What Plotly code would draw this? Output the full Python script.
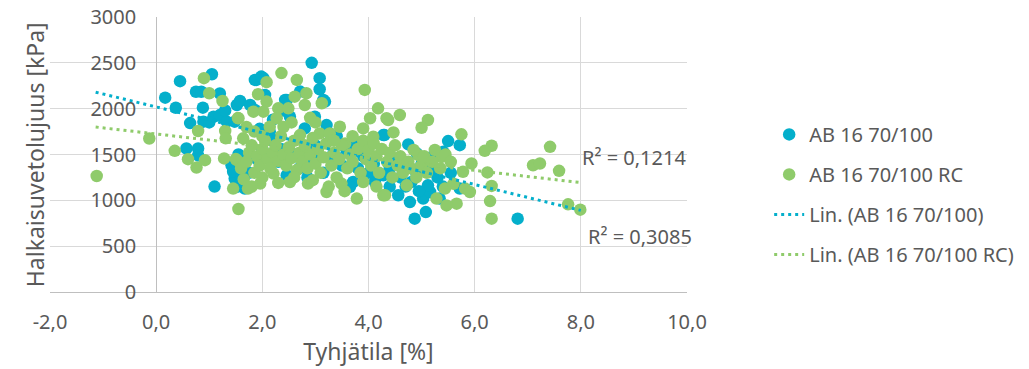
import plotly.graph_objects as go

# ---- data ----
blue_x = [0.17, 0.37, 0.45, 0.57, 0.64, 0.75, 0.79, 0.79, 0.85, 0.88, 0.89, 1.05, 1.08, 1.10, 1.20,
          1.20, 1.33, 1.42, 1.48, 1.52, 1.52, 1.58, 1.77, 1.86, 2.02, 2.05, 2.46, 2.71, 2.52, 2.99,
          2.93, 3.08, 3.08, 3.15, 2.14, 2.80, 3.21, 3.27, 1.48, 1.45, 1.67, 2.46, 2.90, 3.71, 3.78,
          4.28, 3.93, 4.75, 5.50, 5.72, 5.41, 4.91, 5.19, 4.87, 5.08, 6.81, 5.72, 4.56, 4.78, 5.03,
          5.16, 5.34, 4.81, 5.12, 4.28, 3.74, 3.65, 4.12, 1.65, 1.75, 1.60, 1.90, 2.00, 2.20, 2.30,
          2.60, 2.70, 3.00, 3.30, 3.50, 3.40, 3.60, 3.90, 4.10, 4.40, 4.50, 4.60, 4.70, 4.90, 5.00,
          5.30, 5.20, 4.40, 4.00, 3.80, 2.20, 2.40, 1.95, 1.30, 1.00, 1.55, 2.35, 2.85, 3.00, 3.15,
          5.40, 4.95, 5.55, 3.18, 2.88, 1.89, 1.98, 1.86, 2.43, 5.16, 4.30]
blue_y = [2120, 2010, 2300, 1565, 1843, 2185, 1565, 1490, 2185, 2011, 1858, 2375, 1912, 1150, 2165,
          1930, 1858, 1383, 1238, 1146, 2040, 2084, 2040, 2314, 2333, 2150, 2095, 2186, 1912, 1912,
          2500, 2333, 2212, 2095, 1748, 1785, 1821, 1730, 1858, 1311, 1128, 1274, 1420, 1200, 1601,
          1712, 1621, 1610, 1646, 1602, 1529, 1511, 1474, 800, 872, 800, 1128, 1055, 981, 1019,
          1091, 1019, 1200, 1164, 1274, 1639, 1146, 1200, 1380, 1300, 1250, 1450, 1550, 1650, 1420,
          1500, 1350, 1600, 1480, 1380, 1700, 1550, 1480, 1400, 1350, 1450, 1250, 1150, 1300, 1400,
          1250, 1350, 1150, 1300, 1350, 1880, 1980, 1780, 1980, 1850, 1500, 1560, 1250, 1450, 1300,
          1150, 1100, 1300, 2077, 1457, 2314, 2350, 1986, 2095, 1457, 1712]

green_x = [-1.12, -0.13, 0.35, 0.60, 0.76, 0.92, 0.79, 0.90, 1.00, 1.25, 1.30, 1.31, 1.28, 1.52, 1.45,
           1.55, 1.54, 2.36, 2.08, 2.65, 1.92, 2.08, 2.61, 2.83, 2.80, 3.12, 3.93, 2.30, 2.49, 1.83,
           2.02, 1.55, 2.27, 2.14, 3.46, 3.08, 1.64, 2.71, 3.27, 3.56, 4.18, 4.03, 3.90, 4.34, 4.09,
           3.21, 2.86, 2.52, 1.96, 3.49, 3.78, 4.28, 1.73, 2.21, 4.59, 4.37, 5.12, 5.00, 4.47, 5.75,
           6.32, 6.19, 5.94, 5.78, 6.24, 7.10, 7.23, 7.42, 7.59, 7.76, 7.99, 5.38, 4.94, 5.44, 5.82,
           5.91, 6.32, 6.29, 6.32, 5.66, 5.47, 5.28, 4.31, 4.72,
           1.50, 1.60, 1.70, 1.75, 1.80, 1.85, 1.90, 1.95, 2.00, 2.05, 2.10, 2.15, 2.20, 2.25, 2.30,
           2.35, 2.40, 2.45, 2.50, 2.55, 2.60, 2.65, 2.70, 2.75, 2.80, 2.85, 2.90, 2.95, 3.00, 3.05,
           3.10, 3.15, 3.20, 3.30, 3.35, 3.40, 3.45, 3.50, 3.60, 3.65, 3.70, 3.80, 3.85, 3.90, 3.95,
           4.00, 4.05, 4.10, 4.15, 4.20, 4.25, 4.35, 4.40, 4.45, 4.50, 4.55, 4.60, 4.65, 4.75, 4.80,
           4.85, 4.90, 5.00, 5.05, 5.10, 5.20, 5.25, 5.35, 5.45, 5.55, 5.60, 1.65, 1.80, 2.00, 2.30,
           2.60, 2.95, 3.25, 3.55, 3.90, 4.15, 2.40, 2.55, 2.90, 3.00, 3.35, 3.70, 1.85, 2.00, 1.70]
green_y = [1265, 1675, 1540, 1449, 1358, 1438, 1756, 2333, 2168, 2084, 1756, 1676, 1457, 1438, 1128,
           905, 1897, 2388, 2289, 2314, 2158, 2077, 2131, 2168, 2040, 2059, 2205, 2004, 2004, 1967,
           1967, 1895, 1895, 1803, 1803, 1730, 1676, 1712, 1730, 1621, 2004, 1895, 1785, 1895, 1694,
           1091, 1183, 1200, 1183, 1183, 1019, 1055, 1128, 1292, 1931, 1876, 1876, 1792, 1741, 1720,
           1595, 1540, 1402, 1311, 1305, 1383, 1402, 1584, 1322, 956, 898, 1474, 1493, 1128, 1128,
           1091, 1157, 992, 800, 964, 945, 1019, 1055, 1164,
           1450, 1350, 1420, 1520, 1600, 1300, 1480, 1380, 1560, 1650, 1450, 1350, 1520, 1600, 1430,
           1700, 1500, 1380, 1580, 1460, 1650, 1330, 1520, 1420, 1600, 1350, 1500, 1680, 1400, 1560,
           1300, 1470, 1620, 1380, 1520, 1250, 1450, 1600, 1350, 1500, 1420, 1560, 1300, 1650, 1450,
           1550, 1380, 1620, 1480, 1300, 1560, 1420, 1520, 1250, 1600, 1380, 1480, 1300, 1420, 1350,
           1550, 1250, 1380, 1480, 1300, 1420, 1550, 1350, 1500, 1420, 1180, 1230, 1150, 1250, 1190,
           1250, 1220, 1150, 1100, 1200, 1150, 1800, 1850, 1900, 1850, 1650, 1700, 1750, 1700, 1800]

# linear trendlines (slope / intercept) and their x span
trend_x = [-1.14, 8.0]
blue_slope, blue_intercept = -141.1, 2019
green_slope, green_intercept = -66.3, 1724
r2_blue = "R² = 0,3085"
r2_green = "R² = 0,1214"

x_ticks = [-2, 0, 2, 4, 6, 8, 10]
x_tick_text = ["-2,0", "0,0", "2,0", "4,0", "6,0", "8,0", "10,0"]
y_ticks = [0, 500, 1000, 1500, 2000, 2500, 3000]

names = ["AB 16 70/100", "AB 16 70/100 RC", "Lin. (AB 16 70/100)", "Lin. (AB 16 70/100 RC)"]

BLUE = "#04AFCB"
GREEN = "#8FCB6B"
TXT = "#595959"
FONT = "Noto Sans"

fig = go.Figure()
fig.add_trace(go.Scatter(x=blue_x, y=blue_y, mode="markers", name=names[0], legendgroup="a",
                         marker=dict(color=BLUE, size=12.5)))
fig.add_trace(go.Scatter(x=green_x, y=green_y, mode="markers", name=names[1], legendgroup="b",
                         marker=dict(color=GREEN, size=12.5)))
fig.add_trace(go.Scatter(x=trend_x, y=[blue_intercept + blue_slope * v for v in trend_x],
                         mode="lines", name=names[2], legendgroup="c",
                         line=dict(color=BLUE, width=3, dash="3px,4px")))
fig.add_trace(go.Scatter(x=trend_x, y=[green_intercept + green_slope * v for v in trend_x],
                         mode="lines", name=names[3], legendgroup="d",
                         line=dict(color=GREEN, width=3, dash="3px,4px")))

fig.update_layout(
    width=1029, height=369,
    margin=dict(l=50, r=342, t=17, b=77, autoexpand=False),
    paper_bgcolor="white", plot_bgcolor="white",
    font=dict(family=FONT, size=20, color=TXT),
    showlegend=True,
    legend=dict(x=1.129, y=0.644, xanchor="left", yanchor="top", tracegroupgap=11,
                font=dict(size=20, color=TXT), bgcolor="rgba(0,0,0,0)"),
    xaxis=dict(range=[-2, 10], tickvals=x_ticks, ticktext=x_tick_text, automargin=False,
               showgrid=True, gridcolor="#D9D9D9", gridwidth=1, zeroline=False,
               showline=True, linecolor="#BFBFBF", linewidth=1,
               ticks="outside", ticklen=12, tickcolor="rgba(0,0,0,0)",
               title=dict(text="Tyhjätila [%]", font=dict(size=23, color=TXT), standoff=6)),
    yaxis=dict(range=[0, 3000], tickvals=y_ticks, tickformat="d", automargin=False,
               anchor="free", position=(0 - -2) / 12.0,
               showgrid=True, gridcolor="#D9D9D9", gridwidth=1, zeroline=False,
               showline=True, linecolor="#BFBFBF", linewidth=1,
               ticks="outside", ticklen=16, tickcolor="rgba(0,0,0,0)"),
    annotations=[
        dict(text="Halkaisuvetolujuus [kPa]", xref="paper", yref="paper",
             x=-0.024, y=0.5, textangle=-90, showarrow=False,
             font=dict(size=23, color=TXT), xanchor="center", yanchor="middle"),
        dict(text=r2_green, x=7.98, y=1470, xref="x", yref="y", showarrow=False,
             xanchor="left", yanchor="middle", font=dict(size=20, color=TXT)),
        dict(text=r2_blue, x=8.1, y=605, xref="x", yref="y", showarrow=False,
             xanchor="left", yanchor="middle", font=dict(size=20, color=TXT)),
    ],
)

fig.write_html("out.html")
